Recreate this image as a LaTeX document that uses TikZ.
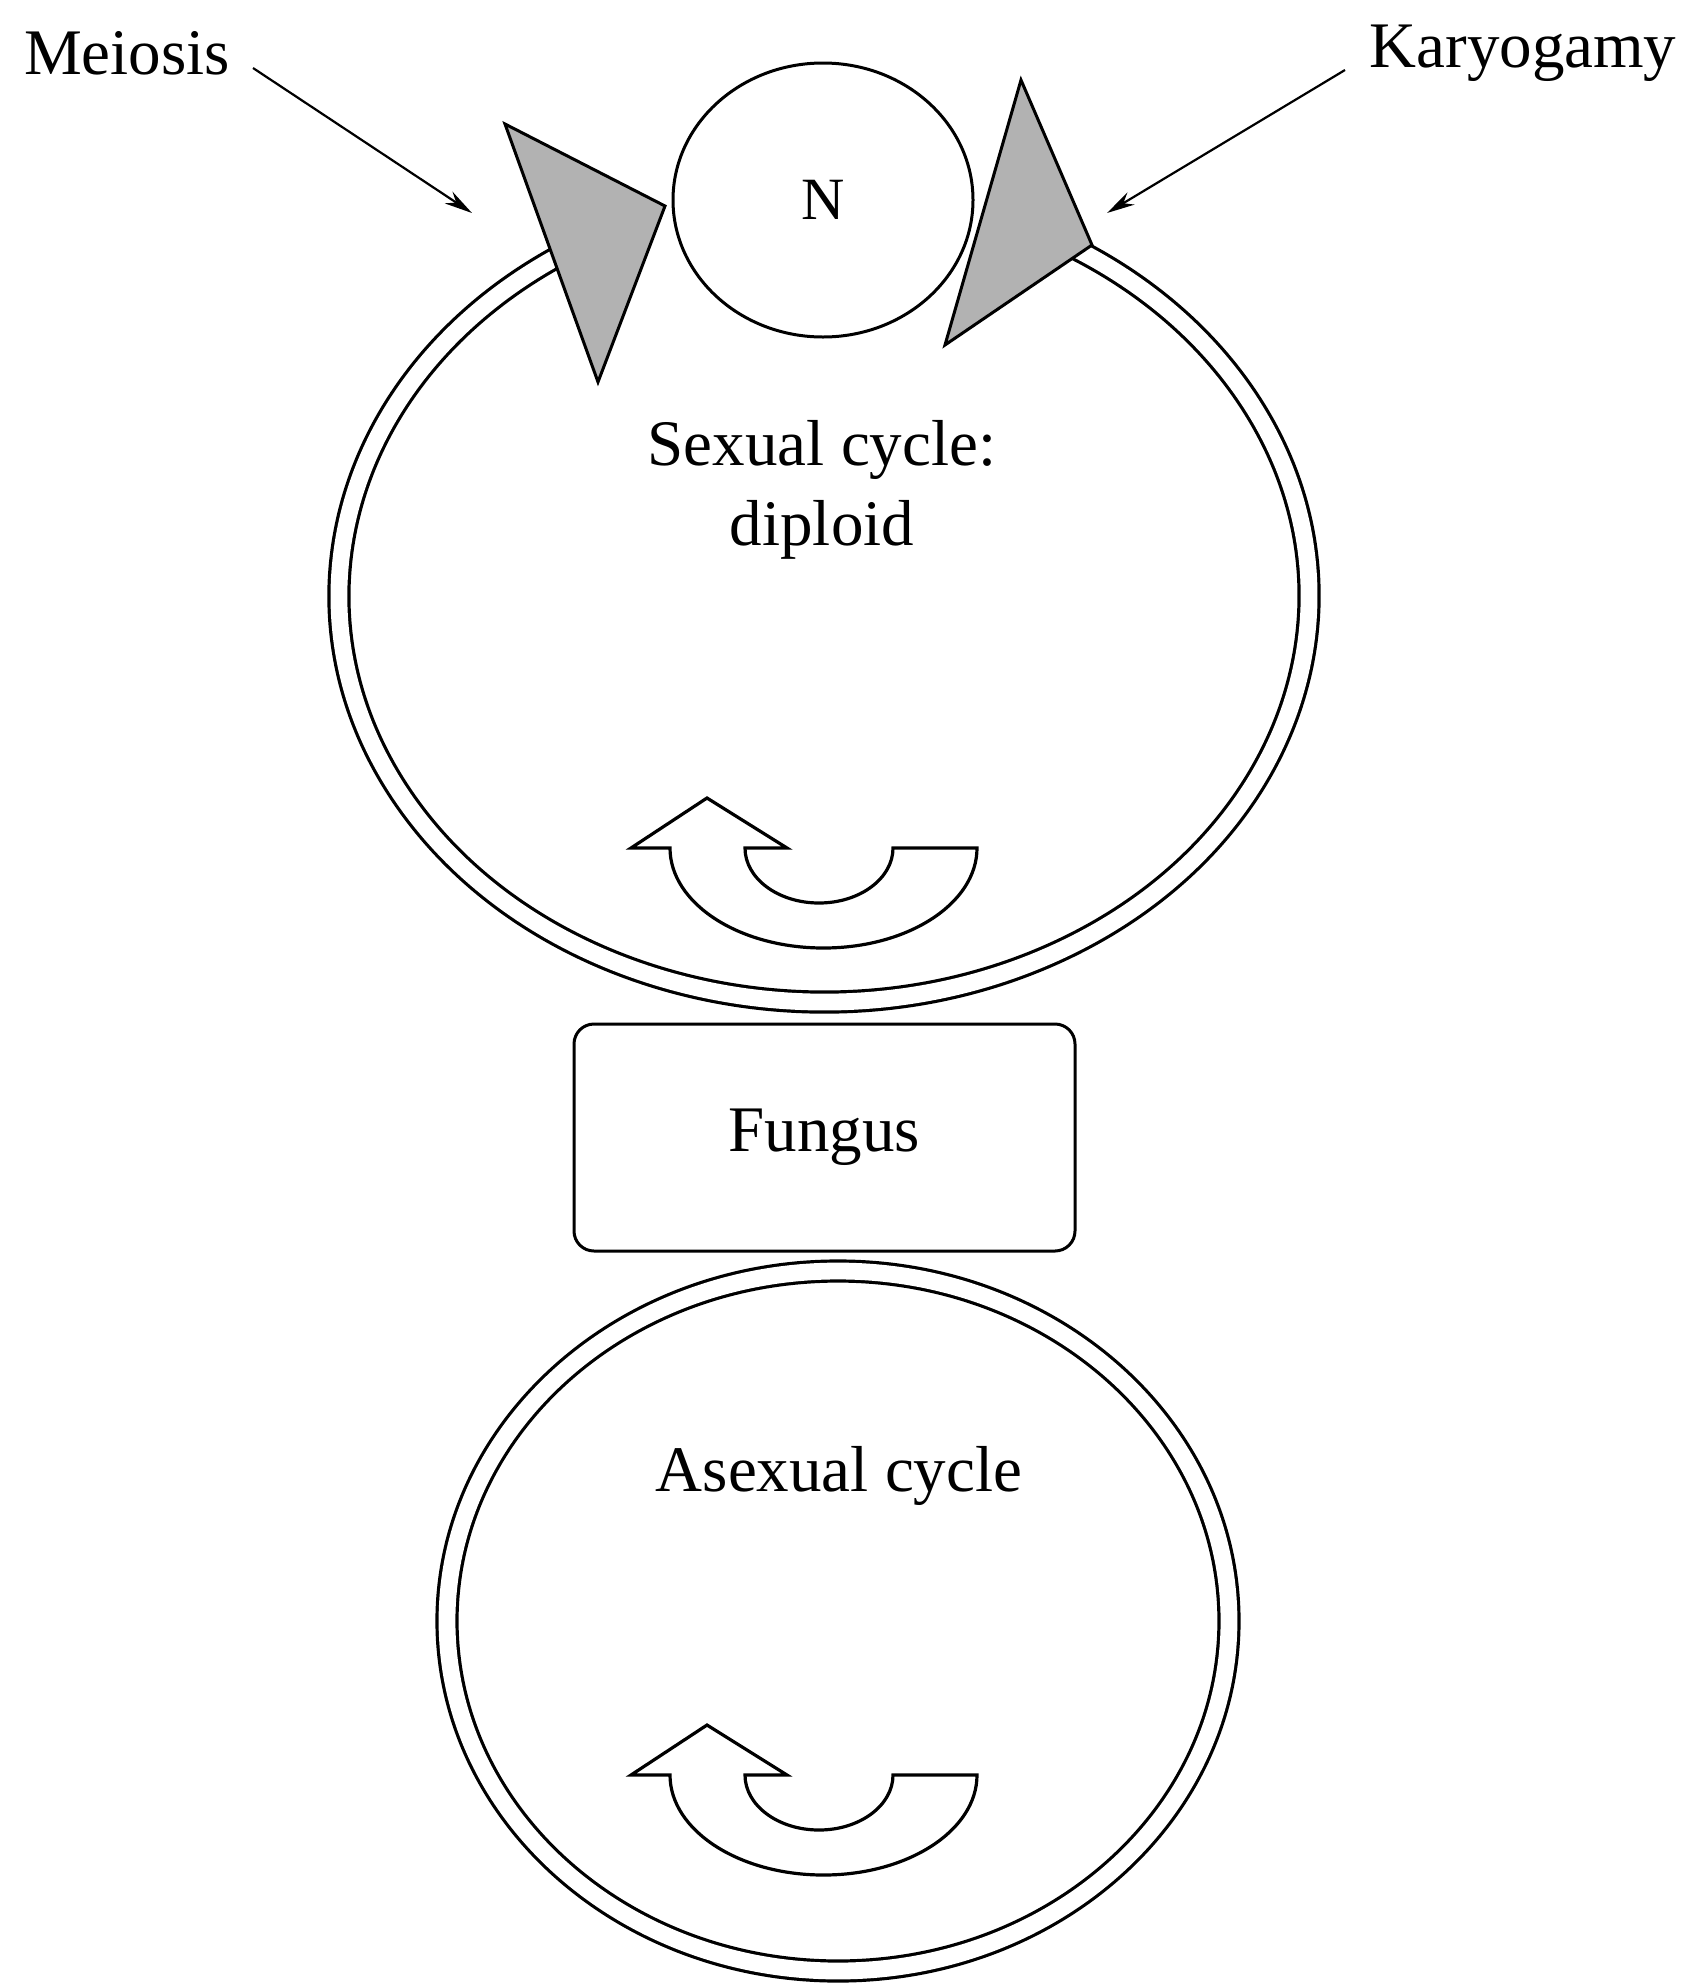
\documentclass[tikz,border=0pt]{standalone}
\usepackage{fontspec}
\setmainfont{Liberation Serif}
\usetikzlibrary{arrows.meta,shapes.geometric,calc}
\begin{document}
\begin{tikzpicture}[x=0.5pt,y=-0.5pt,
  lbl/.style={font=\fontsize{32.5}{40}\selectfont, inner sep=0pt, align=center},
  cyc/.style={draw=black, line width=1.6pt, double=white, double distance=8.4pt},
  tri/.style={draw=black, line width=1.5pt, fill={rgb,255:red,178;green,178;blue,178}, line join=miter},
  ptr/.style={draw=black, line width=1.1pt, -{Stealth[length=14pt,width=7pt]}},
  uarrow/.style={draw=black, line width=1.6pt, fill=white, line join=miter}
]
\useasboundingbox (0,0) rectangle (1688,1987);

% cycles
\draw[cyc] ($(824,596)+(241:485 and 406)$) arc[start angle=241, end angle=-61, x radius=485, y radius=406];
\draw[cyc] (838,1621) ellipse[x radius=391, y radius=350];

% triangles
\draw[tri] (505,124) -- (665,206) -- (598,382) -- cycle;
\draw[tri] (1021,80) -- (1092,245) -- (945,345) -- cycle;

% nucleus
\node[draw=black, line width=1.5pt, fill=white, ellipse, minimum width=150pt, minimum height=137pt, inner sep=0pt,
      font=\fontsize{30}{36}\selectfont] (nuc) at (823,200) {N};

% fungus box
\node[draw=black, line width=1.5pt, fill=white, rounded corners=10pt, minimum width=250.5pt, minimum height=113.5pt,
      lbl] (fungus) at (824.5,1137.5) {Fungus};

% labels
\node[lbl] (sex) at (822,490) {Sexual cycle:\\diploid};
\node[lbl] (asex) at (839,1476) {Asexual cycle};
\node[lbl] (mei) at (127,53) {Meiosis};
\node[lbl] (kar) at (1523,53) {Karyogamy};

% pointer arrows
\coordinate (meiS) at (253,68);
\coordinate (meiT) at (472,213);
\coordinate (karS) at (1345,70);
\coordinate (karT) at (1107,213);
\draw[ptr] (meiS) -- (meiT);
\draw[ptr] (karS) -- (karT);

% U-turn arrows
\foreach \dy in {0,927}{
  \begin{scope}[yshift=-\dy*0.5pt]
  \draw[uarrow] (977,848) -- (893,848)
     arc[start angle=0, end angle=180, x radius=74, y radius=55]
     -- (787,848) -- (707,798) -- (631,848) -- (670,848)
     arc[start angle=180, end angle=0, x radius=153.5, y radius=100]
     -- cycle;
  \end{scope}
}
\end{tikzpicture}
\end{document}
